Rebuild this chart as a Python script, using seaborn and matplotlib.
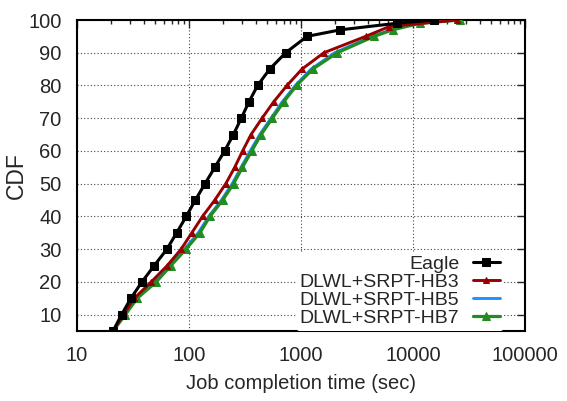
import matplotlib
matplotlib.use("Agg")
import matplotlib.pyplot as plt
import seaborn as sns
import pandas as pd
import numpy as np
from matplotlib.ticker import LogLocator, NullFormatter, FixedLocator

# ---- data ----
eagle_cdf = [5, 10, 15, 20, 25, 30, 35, 40, 45, 50, 55, 60, 65, 70, 75, 80, 85, 90, 95, 97, 99, 100]
eagle_x = [21, 25, 30.3, 38, 49, 63.5, 77.6, 94.5, 114, 139, 170, 208, 249, 293, 343, 410, 525, 730, 1132, 2250, 7150, 15300]

hb3_cdf = [5, 10, 15, 20, 25, 30, 35, 40, 45, 50, 55, 60, 65, 70, 75, 80, 85, 90, 95, 98, 100]
hb3_x = [21, 26, 32.5, 46, 64, 85, 106, 132, 170, 213, 256, 301, 358, 449, 570, 750, 1020, 1600, 3780, 6150, 24500]

hb5_cdf = [5, 10, 15, 20, 25, 30, 35, 40, 45, 50, 55, 60, 65, 70, 75, 80, 85, 90, 95, 97, 99, 100]
hb5_x = [21, 26.5, 33.5, 49, 67, 91, 121, 150, 195, 243, 292, 352, 428, 540, 680, 890, 1230, 2000, 4300, 6400, 11000, 25000]

hb7_cdf = [5, 10, 15, 20, 25, 30, 35, 40, 45, 50, 55, 60, 65, 70, 75, 80, 85, 90, 95, 97, 99, 100]
hb7_x = [21, 27, 34.5, 51, 69, 94, 125, 154, 200, 250, 300, 363, 440, 555, 700, 913, 1270, 2110, 4490, 6590, 11550, 26300]

series_names = ["Eagle", "DLWL+SRPT-HB3", "DLWL+SRPT-HB5", "DLWL+SRPT-HB7"]
x_ticks = [10, 100, 1000, 10000, 100000]
x_tick_labels = ["10", "100", "1000", "10000", "100000"]
y_ticks = [10, 20, 30, 40, 50, 60, 70, 80, 90, 100]

frames = []
for name, xs, ys in zip(series_names, [eagle_x, hb3_x, hb5_x, hb7_x], [eagle_cdf, hb3_cdf, hb5_cdf, hb7_cdf]):
    frames.append(pd.DataFrame({"time": xs, "cdf": ys, "series": name}))
df = pd.concat(frames, ignore_index=True)

sns.set_style("white")
plt.rcParams['font.family'] = ['Liberation Sans', 'DejaVu Sans']

fig = plt.figure(figsize=(5.67, 4.01), dpi=100)
ax = fig.add_axes([77/567, 1 - 331/401, (525 - 77)/567, (331 - 20)/401])

styles = {
    "Eagle": dict(color="black", marker="s", markersize=5.2, lw=2.2),
    "DLWL+SRPT-HB3": dict(color="#990000", marker="^", markersize=4.2, lw=2.1),
    "DLWL+SRPT-HB5": dict(color="#1e90ff", marker=None, markersize=0, lw=2.1),
    "DLWL+SRPT-HB7": dict(color="#228b22", marker="^", markersize=6.0, lw=2.3),
}
order = ["DLWL+SRPT-HB5", "DLWL+SRPT-HB7", "DLWL+SRPT-HB3", "Eagle"]
for name in order:
    st = styles[name]
    sub = df[df["series"] == name]
    sns.lineplot(data=sub, x="time", y="cdf", ax=ax, color=st["color"], lw=st["lw"],
                 marker=st["marker"] if st["marker"] else None,
                 markersize=st["markersize"], markeredgecolor=st["color"],
                 sort=False, estimator=None, label=name, zorder=3)

ax.set_xscale("log")
ax.set_xlim(10, 100000)
ax.set_ylim(5, 100)
ax.xaxis.set_major_locator(FixedLocator(x_ticks))
ax.set_xticklabels(x_tick_labels)
ax.xaxis.set_minor_locator(LogLocator(base=10, subs=np.arange(2, 10)))
ax.xaxis.set_minor_formatter(NullFormatter())
ax.set_yticks(y_ticks)
ax.tick_params(axis="both", which="major", direction="in", length=6, width=1,
               top=True, right=True, labelsize=14.5, pad=11)
ax.tick_params(axis="x", which="minor", direction="in", length=3, width=1, top=True)
ax.grid(True, which="major", linestyle=(0, (1, 2)), color="#444444", lw=0.8)
for sp in ax.spines.values():
    sp.set_linewidth(1.5)
    sp.set_color("black")

ax.set_xlabel("Job completion time (sec)", fontsize=14.5, labelpad=6)
ax.set_ylabel("CDF", fontsize=16.5, labelpad=0)

handles, labels = ax.get_legend_handles_labels()
hmap = dict(zip(labels, handles))
leg = ax.legend([hmap[n] for n in series_names], series_names, loc="lower right",
                bbox_to_anchor=(0.953, 0.0),
                markerfirst=False, frameon=True, fontsize=14, handlelength=1.4,
                handletextpad=0.7, labelspacing=0.02, borderaxespad=0.0,
                borderpad=0.2)
leg.get_frame().set_facecolor("white")
leg.get_frame().set_edgecolor("none")
leg.get_frame().set_alpha(1)
for t in leg.get_texts():
    t.set_ha("right")
leg.set_zorder(5)

fig.savefig("out.png", dpi=100)
